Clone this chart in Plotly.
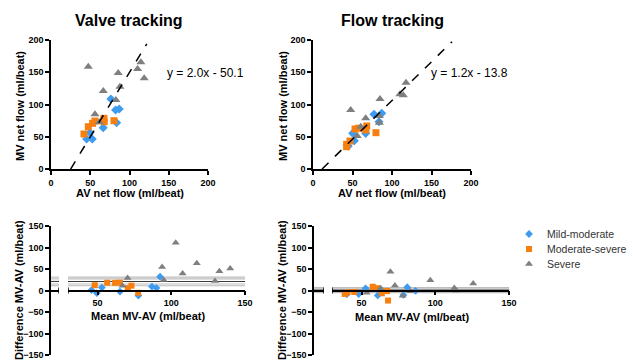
import plotly.graph_objects as go

# ---------------------------------------------------------------------------
# Net flow per beat (ml/beat): aortic valve (AV) vs mitral valve (MV)
# ---------------------------------------------------------------------------
groups = ["Mild-moderate", "Moderate-severe", "Severe"]

# Valve tracking
mild_valve_av = [76.3, 82.3, 86.9, 83.6, 66.5, 49.6, 45.4, 52.6]
mild_valve_mv = [108.5, 91.5, 93.0, 71.8, 64.0, 56.3, 46.5, 46.5]
modsev_valve_av = [42.0, 47.5, 53.0, 56.0, 67.4, 67.8, 80.2]
modsev_valve_mv = [54.3, 65.6, 70.8, 74.4, 78.6, 73.3, 74.9]
severe_valve_av = [47.5, 66.6, 85.6, 82.7, 87.8, 56.0, 61.5, 114.5, 110.3, 118.7]
severe_valve_mv = [158.6, 121.0, 149.0, 107.0, 127.6, 84.8, 72.4, 165.4, 155.0, 140.6]

# Flow tracking
mild_flow_av = [77.2, 87.0, 83.5, 66.7, 50.3, 52.3, 44.5]
mild_flow_mv = [84.8, 86.3, 73.3, 55.3, 55.3, 43.9, 35.5]
modsev_flow_av = [53.2, 57.7, 68.0, 67.0, 79.7, 46.8, 42.6, 42.6]
modsev_flow_mv = [62.0, 63.2, 66.7, 60.5, 56.3, 43.4, 38.3, 34.6]
severe_flow_av = [47.7, 84.8, 66.7, 84.0, 84.0, 60.4, 56.0, 117.7, 110.0, 114.3]
severe_flow_mv = [91.5, 108.5, 78.6, 82.0, 71.8, 65.6, 51.0, 133.8, 115.8, 114.2]

# Linear fits (slope, intercept) and the AV span each fit line covers
valve_fit = (2.0, -50.1)
valve_fit_span = [25.0, 122.0]
flow_fit = (1.2, -13.8)
flow_fit_span = [11.5, 176.0]

# Bland-Altman reference levels (bias and its confidence bounds)
valve_bias = 21
valve_bounds = [31, 27, 15, 11]
flow_bias = 1
flow_bounds = [7, 4, -2, -5]

# Axis ticks
scatter_ticks = [0, 50, 100, 150, 200]
ba_x_ticks = [50, 100, 150]
ba_y_ticks = [-150, -100, -50, 0, 50, 100, 150]
ba_x_range = [30, 150]
ba_stub_range = [0, 10]

# ---------------------------------------------------------------------------
W, H = 633, 360
FONT = "Liberation Sans, Arial, sans-serif"
COLORS = ["#3D9BF0", "#F77F10", "#7F7F7F"]
SYMBOLS = ["diamond", "square", "triangle-up"]


def px(v):
    return v / W


def py(v):
    return 1 - v / H


def mean_diff(av, mv):
    means = [(a + m) / 2 for a, m in zip(av, mv)]
    diffs = [m - a for a, m in zip(av, mv)]
    return means, diffs


valve_pairs = [(mild_valve_av, mild_valve_mv), (modsev_valve_av, modsev_valve_mv),
               (severe_valve_av, severe_valve_mv)]
flow_pairs = [(mild_flow_av, mild_flow_mv), (modsev_flow_av, modsev_flow_mv),
              (severe_flow_av, severe_flow_mv)]

fig = go.Figure()

# Reference lines for the Bland-Altman panels (drawn first, under markers)
for xa_main, xa_stub, ya, bias, bounds in [("x3", "x5", "y3", valve_bias, valve_bounds),
                                           ("x4", "x6", "y4", flow_bias, flow_bounds)]:
    for level in bounds + [bias]:
        col = "#3a3a3a" if level == bias else "#bdbdbd"
        for xa, rng in [(xa_main, ba_x_range), (xa_stub, ba_stub_range)]:
            fig.add_trace(go.Scatter(x=rng, y=[level, level], mode="lines",
                                     line=dict(color=col, width=1.1),
                                     xaxis=xa, yaxis=ya, showlegend=False,
                                     hoverinfo="skip"))

# Scatter panels and difference panels
for i, name in enumerate(groups):
    for (xa, ya, pairs) in [("x", "y", valve_pairs), ("x2", "y2", flow_pairs)]:
        av, mv = pairs[i]
        fig.add_trace(go.Scatter(
            x=av, y=mv, mode="markers", name=name, showlegend=False,
            marker=dict(symbol=SYMBOLS[i], color=COLORS[i],
                        size=7 + (1 if i == 2 else 0), line=dict(width=0)),
            xaxis=xa, yaxis=ya))
    for (xa, ya, pairs) in [("x3", "y3", valve_pairs), ("x4", "y4", flow_pairs)]:
        av, mv = pairs[i]
        m, d = mean_diff(av, mv)
        fig.add_trace(go.Scatter(
            x=m, y=d, mode="markers", name=name, showlegend=False,
            marker=dict(symbol=SYMBOLS[i], color=COLORS[i],
                        size=6 + (1 if i == 2 else 0), line=dict(width=0)),
            xaxis=xa, yaxis=ya))

# Fit lines
for (xa, ya, fit, span) in [("x", "y", valve_fit, valve_fit_span),
                            ("x2", "y2", flow_fit, flow_fit_span)]:
    slope, icpt = fit
    fig.add_trace(go.Scatter(x=span, y=[slope * v + icpt for v in span], mode="lines",
                             line=dict(color="black", width=1.5, dash="dash"),
                             xaxis=xa, yaxis=ya, showlegend=False, hoverinfo="skip"))

# Key: one symbol per group on a hidden axis pair, rows 15 px apart
key_rows = list(range(len(groups), 0, -1))
for i, name in enumerate(groups):
    fig.add_trace(go.Scatter(
        x=[0.5], y=[key_rows[i]], mode="markers", name=name, showlegend=False,
        marker=dict(symbol=SYMBOLS[i], color=COLORS[i], size=6 + (1 if i == 2 else 0),
                    line=dict(width=0)),
        xaxis="x7", yaxis="y7", hoverinfo="skip"))

tickfont = dict(family=FONT, size=9, color="black", weight="bold")
axis_common = dict(showline=True, linecolor="black", linewidth=1.5, ticks="outside",
                   ticklen=4, tickwidth=1.5, tickcolor="black", showgrid=False,
                   zeroline=False, tickfont=tickfont, automargin=False, fixedrange=True,
                   ticklabeloverflow="allow")
hidden = dict(visible=False, showgrid=False, zeroline=False, fixedrange=True)

top_y = [py(169), py(40)]
bot_y = [py(355), py(226)]
bot_zero = (bot_y[0] + bot_y[1]) / 2

fig.update_layout(
    width=W, height=H, margin=dict(l=0, r=0, t=0, b=0),
    paper_bgcolor="white", plot_bgcolor="white",
    font=dict(family=FONT, color="black"),
    showlegend=False,
    xaxis=dict(domain=[px(51), px(208)], range=[0, 200], tickvals=scatter_ticks,
               anchor="y", **axis_common),
    yaxis=dict(domain=top_y, range=[0, 200], tickvals=scatter_ticks, anchor="x",
               **axis_common),
    xaxis2=dict(domain=[px(313), px(471)], range=[0, 200], tickvals=scatter_ticks,
                anchor="y2", **axis_common),
    yaxis2=dict(domain=top_y, range=[0, 200], tickvals=scatter_ticks, anchor="x2",
                **axis_common),
    xaxis3=dict(domain=[px(68), px(245)], range=ba_x_range, tickvals=ba_x_ticks,
                anchor="free", position=bot_zero, **axis_common),
    yaxis3=dict(domain=bot_y, range=[-150, 150], tickvals=ba_y_ticks, anchor="x5",
                **axis_common),
    xaxis4=dict(domain=[px(332), px(509)], range=ba_x_range, tickvals=ba_x_ticks,
                anchor="free", position=bot_zero, **axis_common),
    yaxis4=dict(domain=bot_y, range=[-150, 150], tickvals=ba_y_ticks, anchor="x6",
                **axis_common),
    xaxis5=dict(domain=[px(51), px(59)], range=ba_stub_range, anchor="free",
                position=bot_zero, showline=True, linecolor="black", linewidth=1.5,
                ticks="", showticklabels=False, showgrid=False, zeroline=False,
                fixedrange=True),
    xaxis6=dict(domain=[px(314), px(324)], range=ba_stub_range, anchor="free",
                position=bot_zero, showline=True, linecolor="black", linewidth=1.5,
                ticks="", showticklabels=False, showgrid=False, zeroline=False,
                fixedrange=True),
    xaxis7=dict(domain=[px(524), px(534)], range=[0, 1], anchor="y7", **hidden),
    yaxis7=dict(domain=[py(271.5), py(226.5)], range=[0.5, len(groups) + 0.5],
                anchor="x7", **hidden),
)

# Broken-axis caps on the difference panels
for xa, xv in [("x5", ba_stub_range[1]), ("x3", ba_x_range[0]),
               ("x6", ba_stub_range[1]), ("x4", ba_x_range[0])]:
    ya = "y3" if xa in ("x3", "x5") else "y4"
    fig.add_shape(type="line", xref=xa, yref=ya, x0=xv, x1=xv, y0=-7, y1=7,
                  line=dict(color="black", width=1.5))

title_font = dict(family=FONT, size=16, color="black", weight="bold")
label_font = dict(family=FONT, size=11, color="black", weight="bold")
eq_font = dict(family=FONT, size=12, color="black")
key_font = dict(family=FONT, size=10.5, color="#333333")


def note(text, x, y, font, angle=0):
    fig.add_annotation(text=text, x=px(x), y=py(y), xref="paper", yref="paper",
                       showarrow=False, font=font, textangle=angle,
                       xanchor="center", yanchor="middle")


note("Valve tracking", 129, 20, title_font)
note("Flow tracking", 392, 20, title_font)
note("AV net flow (ml/beat)", 130, 193, label_font)
note("AV net flow (ml/beat)", 392, 193, label_font)
note("MV net flow (ml/beat)", 20, 106, label_font, -90)
note("MV net flow (ml/beat)", 283, 106, label_font, -90)
note("Mean MV-AV (ml/beat)", 148, 316, label_font)
note("Mean MV-AV (ml/beat)", 412, 317, label_font)
note("Difference MV-AV (ml/beat)", 19, 290, label_font, -90)
note("Difference MV-AV (ml/beat)", 282, 290, label_font, -90)

for (slope, icpt), cx in [(valve_fit, 205), (flow_fit, 469)]:
    sign = "-" if icpt < 0 else "+"
    note(f"y = {slope:.1f}x {sign} {abs(icpt):.1f}", cx, 73, eq_font)

# Key labels, aligned with the key symbols
for i, name in enumerate(groups):
    fig.add_annotation(text=name, x=px(545), y=key_rows[i], xref="paper", yref="y7",
                       showarrow=False, font=key_font, xanchor="left", yanchor="middle")

fig.write_html("out.html")
